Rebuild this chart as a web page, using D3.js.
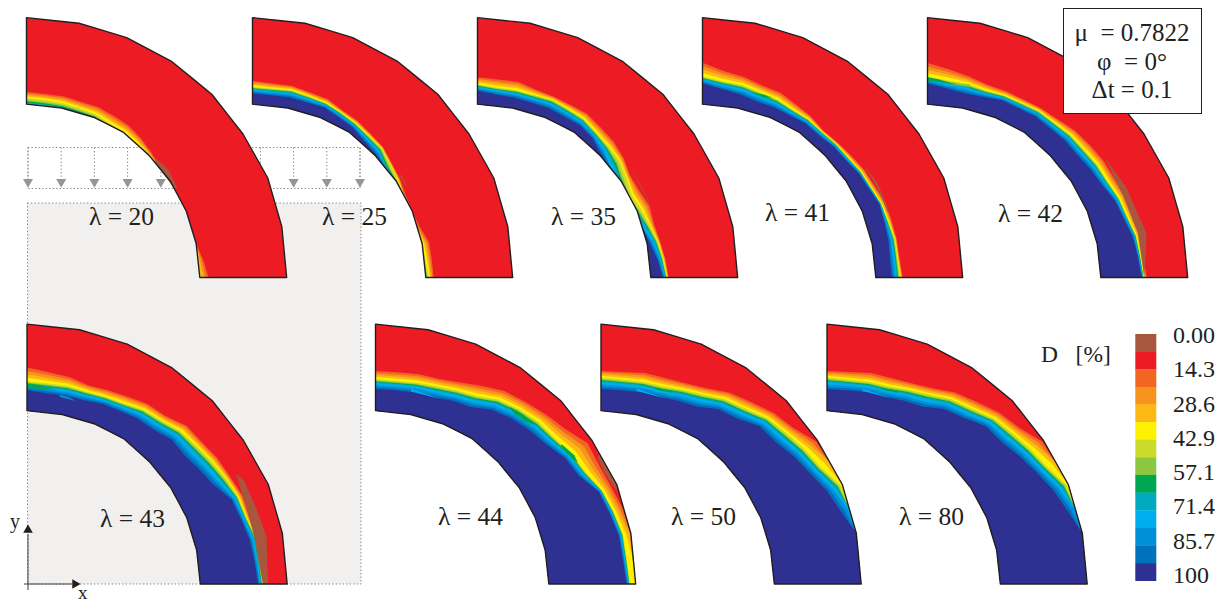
<!DOCTYPE html>
<html>
<head>
    <meta charset="utf-8">
    <script src="https://d3js.org/d3.v7.min.js"></script>
    <title>Damage evolution in a curved beam</title>
    <style>
        html, body { margin: 0; padding: 0; background: #fff; }
        svg { display: block; }
        text { font-family: "Liberation Serif", "Times New Roman", serif; fill: #231f20; }
        .dots { fill: none; stroke: #808285; stroke-width: 1; stroke-dasharray: 1.3 2.2; }
    </style>
</head>
<body>
    <svg width="1229" height="602"></svg>

    <script>
        // mesh outline of the arch, model units (inner radius = 1, thickness = 0.5)
        const nodeAngles = [0, 11.25, 22.5, 33.75, 45, 56.25, 67.5, 78.75, 90];
        const outerNodeX = [0, 0.303, 0.578, 0.834, 1.069, 1.249, 1.392, 1.473, 1.501];
        const outerNodeY = [1.499, 1.467, 1.384, 1.249, 1.057, 0.828, 0.574, 0.293, 0];
        const innerNodeX = [0, 0.203, 0.392, 0.56, 0.706, 0.83, 0.922, 0.979, 1.0];
        const innerNodeY = [1, 0.978, 0.923, 0.837, 0.706, 0.555, 0.382, 0.195, 0];

        // angle along the arch at which the damage fronts were read
        const stationAngles = [0, 5.625, 11.25, 16.875, 22.5, 28.125, 33.75, 39.375, 45, 50.625, 56.25, 61.875, 67.5, 73.125, 78.75, 84.375, 90];

        // fronts: fraction of the thickness from the inner edge (outside 0..1 = front has left the section)
        const lambdas = [20, 25, 35, 41, 42, 43, 44, 50, 80];

        const navy20 = [-0.1, -0.1, -0.1, -0.1, -0.1, -0.1, -0.1, -0.1, -0.1, -0.1, -0.1, -0.1, -0.1, -0.1, -0.1, -0.1, -0.1];
        const yellow20 = [0.07, 0.07, 0.06, 0.055, 0.04, 0.02, 0.01, 0.01, 0, -0.02, -0.05, -0.05, -0.05, -0.05, -0.03, -0.02, -0.02];
        const red20 = [0.14, 0.14, 0.135, 0.13, 0.13, 0.12, 0.1, 0.085, 0.04, 0.01, 0, 0, 0, 0, 0, 0.06, 0.1];
        const brown20 = [[46.7, 0.035], [53, 0.07], [59.5, 0.03], [58.6, 0], [48.6, 0]];

        const navy25 = [0.125, 0.125, 0.125, 0.125, 0.125, 0.1, 0.07, 0.04, 0.015, -0.1, -0.2, -0.3, -0.3, -0.3, -0.3, -0.2, -0.1];
        const yellow25 = [0.2, 0.205, 0.21, 0.2, 0.18, 0.16, 0.125, 0.12, 0.11, 0.07, 0.02, -0.05, -0.05, -0.05, 0, 0.02, 0.035];
        const red25 = [0.27, 0.265, 0.26, 0.245, 0.23, 0.19, 0.165, 0.15, 0.13, 0.09, 0.05, 0.02, 0, 0.03, 0.08, 0.09, 0.09];
        const brown25 = [[55.3, 0.09], [59, 0.085], [59, 0.07], [55.3, 0.075]];

        const navy35 = [0.155, 0.135, 0.12, 0.12, 0.115, 0.11, 0.105, 0.09, 0.02, -0.1, -0.2, -0.2, -0.15, -0.05, 0.03, 0.1, 0.14];
        const yellow35 = [0.23, 0.215, 0.21, 0.215, 0.22, 0.21, 0.19, 0.165, 0.14, 0.135, 0.07, 0.03, 0.05, 0.09, 0.125, 0.165, 0.185];
        const red35 = [0.31, 0.31, 0.31, 0.28, 0.26, 0.265, 0.26, 0.245, 0.22, 0.19, 0.12, 0.13, 0.15, 0.14, 0.15, 0.19, 0.205];
        const brown35 = [[56, 0.17], [62, 0.175], [68, 0.17], [68, 0.165], [62, 0.165], [56, 0.165]];

        const navy41 = [0.24, 0.2, 0.16, 0.135, 0.125, 0.125, 0.125, 0.125, 0.14, 0.15, 0.17, 0.19, 0.21, 0.205, 0.19, 0.185, 0.185];
        const yellow41 = [0.32, 0.29, 0.27, 0.25, 0.225, 0.2, 0.185, 0.18, 0.18, 0.19, 0.2, 0.215, 0.23, 0.25, 0.265, 0.275, 0.28];
        const red41 = [0.48, 0.41, 0.365, 0.33, 0.31, 0.27, 0.23, 0.2, 0.205, 0.23, 0.245, 0.26, 0.28, 0.29, 0.285, 0.295, 0.31];
        const brown41 = [[55.3, 0.274], [61.6, 0.307], [70.9, 0.29], [70.5, 0.275], [63, 0.28]];

        const navy42 = [0.24, 0.205, 0.17, 0.19, 0.215, 0.22, 0.225, 0.235, 0.24, 0.245, 0.26, 0.29, 0.335, 0.375, 0.415, 0.45, 0.47];
        const yellow42 = [0.32, 0.3, 0.285, 0.27, 0.275, 0.29, 0.3, 0.315, 0.33, 0.345, 0.355, 0.37, 0.39, 0.42, 0.455, 0.48, 0.495];
        const red42 = [0.475, 0.43, 0.37, 0.34, 0.33, 0.335, 0.34, 0.37, 0.4, 0.43, 0.44, 0.45, 0.47, 0.49, 0.5, 0.51, 0.53];
        const brown42 = [[55.8, 0.473], [65.4, 0.524], [78.6, 0.578], [84.5, 0.54], [90, 0.5], [78, 0.485], [67.5, 0.443]];

        const navy43 = [0.24, 0.225, 0.22, 0.23, 0.25, 0.27, 0.285, 0.31, 0.36, 0.36, 0.39, 0.45, 0.55, 0.59, 0.62, 0.65, 0.665];
        const yellow43 = [0.34, 0.34, 0.335, 0.335, 0.34, 0.37, 0.41, 0.45, 0.5, 0.535, 0.56, 0.61, 0.63, 0.655, 0.7, 0.71, 0.72];
        const red43 = [0.5, 0.47, 0.44, 0.41, 0.42, 0.46, 0.49, 0.52, 0.59, 0.61, 0.635, 0.66, 0.68, 0.69, 0.72, 0.74, 0.76];
        const brown43 = [[62, 0.74], [64.5, 0.78], [71.4, 0.79], [78.8, 0.815], [90, 0.78], [90, 0.72], [78.3, 0.68], [70.6, 0.685]];

        const navy44 = [0.25, 0.26, 0.26, 0.265, 0.29, 0.325, 0.41, 0.48, 0.51, 0.56, 0.63, 0.67, 0.78, 0.83, 0.86, 0.88, 0.897];
        const yellow44 = [0.365, 0.37, 0.375, 0.4, 0.42, 0.47, 0.55, 0.62, 0.65, 0.68, 0.72, 0.76, 0.82, 0.88, 0.91, 0.925, 0.935];
        const red44 = [0.46, 0.47, 0.475, 0.49, 0.52, 0.6, 0.67, 0.73, 0.77, 0.84, 0.94, 0.93, 0.93, 0.99, 1.05, 1.2, 1.3];
        const brown44 = [[59.7, 1], [64, 1], [68.5, 1], [68.5, 0.97], [64, 0.945], [60, 0.96]];

        const navy50 = [0.25, 0.26, 0.265, 0.27, 0.29, 0.33, 0.42, 0.48, 0.58, 0.61, 0.67, 0.74, 0.81, 0.9, 1.0, 1.2, 1.3];
        const yellow50 = [0.385, 0.385, 0.385, 0.4, 0.43, 0.49, 0.56, 0.63, 0.71, 0.77, 0.82, 0.88, 0.98, 1.1, 1.3, 1.5, 1.5];
        const red50 = [0.46, 0.475, 0.49, 0.5, 0.51, 0.57, 0.65, 0.73, 0.8, 0.87, 0.98, 1.15, 1.3, 1.5, 1.7, 1.9, 2.0];
        const brown50 = [];

        const navy80 = [0.25, 0.26, 0.265, 0.27, 0.29, 0.33, 0.42, 0.49, 0.58, 0.61, 0.67, 0.75, 0.82, 0.91, 1.0, 1.2, 1.3];
        const yellow80 = [0.385, 0.385, 0.385, 0.4, 0.43, 0.49, 0.56, 0.63, 0.71, 0.77, 0.82, 0.89, 0.98, 1.1, 1.3, 1.5, 1.5];
        const red80 = [0.46, 0.475, 0.49, 0.5, 0.51, 0.57, 0.65, 0.73, 0.8, 0.87, 0.98, 1.15, 1.3, 1.5, 1.7, 1.9, 2.0];
        const brown80 = [];

        // small isolated patches the fronts do not catch: [legend band, outline of [angle, fraction]]
        const patches41 = [[10, [[10, 0.22], [14, 0.23], [16, 0.205], [12, 0.2]]], [8, [[14, 0.22], [18, 0.235], [21, 0.225], [18, 0.205]]]];
        const patches42 = [[8, [[0, 0.27], [0, 0.31], [3, 0.3], [7, 0.27]]], [7, [[6, 0.26], [12, 0.285], [12, 0.255]]]];
        const patches43 = [[8, [[0, 0.31], [4, 0.3], [8, 0.28], [4, 0.27], [0, 0.26]]], [11, [[9.5, 0.2], [14.5, 0.195], [12, 0.215], [9.5, 0.225]]]];
        const patches44 = [[10, [[10, 0.3], [18.3, 0.27], [14, 0.265], [10, 0.265]]], [8, [[37, 0.57], [41, 0.6], [45, 0.6], [43, 0.56], [39, 0.54]]], [8, [[53, 0.7], [57, 0.74], [59, 0.73], [56, 0.68], [53, 0.68]]]];
        const patches50 = [[10, [[10, 0.3], [18.5, 0.275], [14, 0.27], [10, 0.27]]], [8, [[15, 0.36], [20, 0.38], [20, 0.36], [15, 0.34]]]];
        const patches80 = [[10, [[10, 0.3], [18.5, 0.275], [14, 0.27], [10, 0.27]]], [8, [[15, 0.36], [20, 0.38], [20, 0.36], [15, 0.34]]]];

        const fronts = [
            [navy20, yellow20, red20, brown20, []], [navy25, yellow25, red25, brown25, []], [navy35, yellow35, red35, brown35, []],
            [navy41, yellow41, red41, brown41, patches41], [navy42, yellow42, red42, brown42, patches42], [navy43, yellow43, red43, brown43, patches43],
            [navy44, yellow44, red44, brown44, patches44], [navy50, yellow50, red50, brown50, patches50], [navy80, yellow80, red80, brown80, patches80]
        ];

        // legend, top to bottom
        const legendColors = ["#a9563f", "#ed1c24", "#f26522", "#f7941d", "#fdb913", "#fff200", "#cbdb2a", "#8dc63f", "#00a651", "#00abbd", "#00aeef", "#0090d7", "#0072bc", "#2e3192"];
        const legendLabels = ["0.00", "14.3", "28.6", "42.9", "57.1", "71.4", "85.7", "100"];

        // where each colour boundary sits between two fronts (red to yellow, yellow to navy)
        const upperStops = [1, 0.75, 0.5, 0.25];
        const lowerStops = [1, 0.87, 0.78, 0.7, 0.58, 0.4, 0.2, 0];

        const loadArrows = [0, 1, 2, 3, 4, 5, 6, 7, 8, 9, 10];

        // layout
        const panelLeft = [26.5, 252.5, 477.5, 702.5, 927.5, 27, 375.5, 601, 827];
        const panelBase = [277.5, 277.5, 277.5, 277.5, 277.5, 584, 584, 584, 584];
        const labelX = [89, 322, 551, 765, 998, 100, 438, 671, 899];
        const labelY = [225, 225, 225, 221, 222, 527, 525, 525, 525];
        const archWidth = 260;

        const svg = d3.select("svg");
        const ink = "#231f20";

        // grey specimen box behind the first panels
        svg.append("rect").attr("x", 27.5).attr("y", 203).attr("width", 333.5).attr("height", 381)
            .attr("fill", "#f1f0ee");
        svg.append("rect").attr("class", "dots").attr("x", 27.5).attr("y", 203).attr("width", 333.5).attr("height", 381);

        // distributed load
        const loadX = d3.scalePoint().domain(loadArrows).range([28, 360]);
        svg.append("rect").attr("class", "dots").attr("x", 28).attr("y", 147.5).attr("width", 332).attr("height", 41);
        const load = svg.append("g").selectAll("g").data(loadArrows).enter().append("g")
            .attr("transform", d => `translate(${loadX(d)},0)`);
        load.append("line").attr("class", "dots").attr("y1", 147.5).attr("y2", 178);
        load.append("path").attr("d", d3.symbol().type(d3.symbolTriangle).size(44))
            .attr("transform", "translate(0,182) rotate(180)").attr("fill", "#939598");

        // piecewise linear along the mesh, so the bands follow the coarse outline
        const outerX = d3.scaleLinear().domain(nodeAngles).range(outerNodeX);
        const outerY = d3.scaleLinear().domain(nodeAngles).range(outerNodeY);
        const innerX = d3.scaleLinear().domain(nodeAngles).range(innerNodeX);
        const innerY = d3.scaleLinear().domain(nodeAngles).range(innerNodeY);

        function archPoint(angle, s) {
            const f = Math.max(0, Math.min(1, s));
            return [innerX(angle) + (outerX(angle) - innerX(angle)) * f,
                    innerY(angle) + (outerY(angle) - innerY(angle)) * f];
        }

        lambdas.forEach((lambda, i) => {
            const [navy, yellow, red, brown, patches] = fronts[i];
            const x = d3.scaleLinear().domain([0, 1.5]).range([panelLeft[i], panelLeft[i] + archWidth]);
            const y = d3.scaleLinear().domain([0, 1.5]).range([panelBase[i], panelBase[i] - archWidth]);
            const line = d3.line().x(d => x(d[0])).y(d => y(d[1]));
            const g = svg.append("g").attr("class", "panel");

            const innerEdge = stationAngles.map(a => archPoint(a, 0)).reverse();
            const outerEdge = stationAngles.map(a => archPoint(a, 1));
            const ring = line(outerEdge.concat(innerEdge)) + "Z";

            g.append("path").attr("d", ring).attr("fill", legendColors[1]);

            // paint from the red side inwards, each band covers everything under its boundary
            const boundaries = [];
            upperStops.forEach(t => boundaries.push(stationAngles.map((a, k) => yellow[k] + (red[k] - yellow[k]) * t)));
            lowerStops.forEach(t => boundaries.push(stationAngles.map((a, k) => navy[k] + (yellow[k] - navy[k]) * t)));
            boundaries.forEach((b, n) => {
                const edge = stationAngles.map((a, k) => archPoint(a, b[k]));
                g.append("path").attr("d", line(edge.concat(innerEdge)) + "Z")
                    .attr("fill", legendColors[n + 2]);
            });

            if (brown.length) {
                g.append("path").attr("d", line(brown.map(p => archPoint(p[0], p[1]))) + "Z")
                    .attr("fill", legendColors[0]);
            }
            g.selectAll("path.patch").data(patches).enter().append("path").attr("class", "patch")
                .attr("d", d => line(d[1].map(p => archPoint(p[0], p[1]))) + "Z")
                .attr("fill", d => legendColors[d[0]]);

            g.append("path").attr("d", ring).attr("fill", "none")
                .attr("stroke", ink).attr("stroke-width", 1.4).attr("stroke-linejoin", "round");

            svg.append("text").attr("x", labelX[i]).attr("y", labelY[i]).attr("font-size", 25.5)
                .text(`λ = ${lambda}`);
        });

        // legend
        const legendY = d3.scaleBand().domain(legendColors).range([334, 580.7]);
        svg.append("g").selectAll("rect").data(legendColors).enter().append("rect")
            .attr("x", 1135.3).attr("width", 21)
            .attr("y", d => legendY(d)).attr("height", legendY.bandwidth() + 0.3)
            .attr("fill", d => d);
        const labelScale = d3.scaleLinear().domain([0, legendLabels.length - 1]).range([343, 583]);
        svg.append("g").selectAll("text").data(legendLabels).enter().append("text")
            .attr("x", 1173).attr("y", (d, i) => labelScale(i)).attr("font-size", 24)
            .text(d => d);
        svg.append("text").attr("x", 1041).attr("y", 362).attr("font-size", 23.5)
            .style("white-space", "pre").text("D   [%]");

        // parameter box
        svg.append("rect").attr("x", 1063.5).attr("y", 8.5).attr("width", 138).attr("height", 105)
            .attr("fill", "#fff").attr("stroke", ink).attr("stroke-width", 1);
        const boxLines = ["μ  = 0.7822", "φ  = 0°", "Δt = 0.1"];
        const boxY = [41, 70, 98];
        svg.append("g").selectAll("text").data(boxLines).enter().append("text")
            .attr("x", 1132).attr("y", (d, i) => boxY[i]).attr("text-anchor", "middle").attr("font-size", 25)
            .style("white-space", "pre").text(d => d);

        // coordinate axes
        const axisInk = "#414042";
        svg.append("line").attr("x1", 24).attr("x2", 72).attr("y1", 584).attr("y2", 584).attr("stroke", axisInk);
        svg.append("line").attr("x1", 28).attr("x2", 28).attr("y1", 590).attr("y2", 534).attr("stroke", axisInk);
        svg.append("path").attr("d", d3.symbol().type(d3.symbolTriangle).size(40))
            .attr("transform", "translate(28,530)").attr("fill", ink);
        svg.append("path").attr("d", d3.symbol().type(d3.symbolTriangle).size(40))
            .attr("transform", "translate(75,584) rotate(90)").attr("fill", ink);
        svg.append("text").attr("x", 10).attr("y", 528).attr("font-size", 20).text("y");
        svg.append("text").attr("x", 78).attr("y", 599).attr("font-size", 19).text("x");
    </script>
</body>
</html>
